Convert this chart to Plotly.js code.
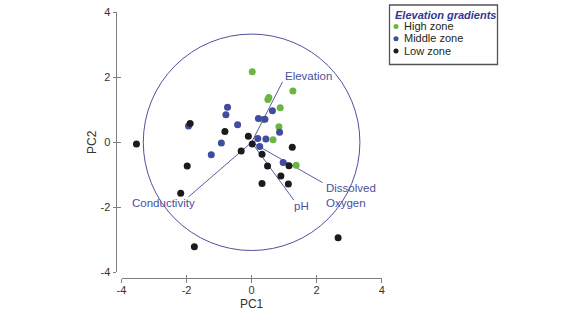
<!DOCTYPE html>
<html>
<head>
<meta charset="utf-8">
<script src="https://cdn.plot.ly/plotly-3.0.1.min.js"></script>
<style>
html,body{margin:0;padding:0;background:#fff;}
#chart{width:584px;height:311px;}
</style>
</head>
<body>
<div id="chart"></div>
<script>
// ---------- data ----------
const groupNames = ['High zone', 'Middle zone', 'Low zone'];
const legendTitle = 'Elevation gradients';

const highX = [0.02, 1.27, 0.50, 0.53, 0.88, 0.35, 0.84, 0.66, 1.37];
const highY = [2.17, 1.58, 1.32, 1.38, 1.06, 0.70, 0.48, 0.08, -0.71];

const midX = [-0.74, -0.79, -1.94, -0.43, 0.64, 0.21, 0.41, 0.86, 0.19, 0.44, -0.93, 0.25, -1.24, 0.97];
const midY = [1.08, 0.85, 0.50, 0.54, 0.97, 0.73, 0.71, 0.31, 0.12, 0.10, -0.02, -0.13, -0.38, -0.62];

const lowX = [-3.54, -1.89, -0.82, -0.10, 0.02, -0.32, -1.98, -2.18, -1.76, 1.25, 0.32, 0.49, 1.15, 0.90, 0.32, 1.13, 2.66];
const lowY = [-0.05, 0.58, 0.33, 0.19, -0.05, -0.27, -0.73, -1.57, -3.21, -0.15, -0.37, -0.73, -0.72, -1.04, -1.27, -1.28, -2.94];

const loadingNames = ['Elevation', 'Dissolved<br>Oxygen', 'pH', 'Conductivity'];
const loadingX = [0.95, 2.18, 1.30, -1.94];
const loadingY = [1.86, -1.24, -1.78, -1.68];

const circleRadius = 3.33;

const tickVals = [-4, -2, 0, 2, 4];
const tickText = ['-4', '-2', '0', '2', '4'];

// ---------- styles ----------
const W = 584, H = 311;
const px = v => v / W;
const py = v => 1 - v / H;
const groupColors = ['#6db543', '#3f4c9f', '#1b1b1b'];
const vecColor = '#5b5d9e';
const labelColor = '#4a4f9c';
const axisColor = '#808080';
const FONT = '"Liberation Sans", Arial, sans-serif';
const labelStyle = [
  {xanchor: 'left', yanchor: 'bottom', xshift: 0, yshift: -2},
  {xanchor: 'left', yanchor: 'top', xshift: 1, yshift: 3},
  {xanchor: 'left', yanchor: 'top', xshift: -2, yshift: 2},
  {xanchor: 'center', yanchor: 'top', xshift: -25, yshift: 2}
];

const groupsX = [highX, midX, lowX];
const groupsY = [highY, midY, lowY];

const traces = [];
// loading vectors
loadingX.forEach((lx, i) => {
  traces.push({
    type: 'scatter', mode: 'lines',
    x: [0, lx], y: [0, loadingY[i]],
    line: {color: vecColor, width: 1},
    hoverinfo: 'skip', showlegend: false
  });
});
// points (high drawn first, low on top)
groupNames.forEach((name, i) => {
  traces.push({
    type: 'scatter', mode: 'markers', name: name,
    x: groupsX[i], y: groupsY[i],
    marker: {color: groupColors[i], size: 7, line: {width: 0}},
    showlegend: false
  });
});
// helper trace for inside ticks overlay
traces.push({type: 'scatter', mode: 'markers', x: [], y: [], xaxis: 'x2', yaxis: 'y2', showlegend: false});

const annotations = loadingNames.map((n, i) => Object.assign({
  x: loadingX[i], y: loadingY[i], xref: 'x', yref: 'y',
  text: n, showarrow: false, align: 'left',
  font: {family: FONT, size: 11.5, color: labelColor}
}, labelStyle[i]));

// custom legend
annotations.push({
  x: px(392.5), y: py(15), xref: 'paper', yref: 'paper',
  xanchor: 'left', yanchor: 'middle', showarrow: false,
  text: '<b><i>' + legendTitle + '</i></b>',
  font: {family: FONT, size: 11, color: '#2f3a8f'}
});
const itemY = [26, 38.3, 50.6];
const shapes = [];
groupNames.forEach((name, i) => {
  annotations.push({
    x: px(401.5), y: py(itemY[i]), xref: 'paper', yref: 'paper',
    xanchor: 'left', yanchor: 'middle', showarrow: false,
    text: name, font: {family: FONT, size: 11, color: '#231f20'}
  });
  shapes.push({
    type: 'circle', xref: 'paper', yref: 'paper',
    xsizemode: 'pixel', ysizemode: 'pixel',
    xanchor: px(396), yanchor: py(itemY[i] + 0.5),
    x0: -2.5, x1: 2.5, y0: -2.5, y1: 2.5,
    fillcolor: groupColors[i], line: {width: 0}
  });
});
shapes.push({
  type: 'rect', xref: 'paper', yref: 'paper',
  x0: px(389.5), x1: px(497.5), y0: py(64.5), y1: py(5),
  line: {color: '#555555', width: 1.3}, fillcolor: 'rgba(0,0,0,0)'
});
// correlation circle
shapes.push({
  type: 'circle', xref: 'x', yref: 'y', layer: 'below',
  x0: -circleRadius, x1: circleRadius, y0: -circleRadius, y1: circleRadius,
  line: {color: '#4f519c', width: 1}
});

const xDomain = [px(121.5), px(381.7)];
const yDomain = [py(272.3), py(12.3)];
const common = {
  range: [-4, 4], showgrid: false, zeroline: false,
  tickvals: tickVals, ticktext: tickText
};

const layout = {
  width: W, height: H,
  margin: {l: 0, r: 0, t: 0, b: 0},
  paper_bgcolor: '#ffffff', plot_bgcolor: 'rgba(0,0,0,0)',
  showlegend: false,
  font: {family: FONT, size: 11, color: '#333333'},
  xaxis: Object.assign({}, common, {
    domain: xDomain, anchor: 'free', position: py(278),
    showline: true, linecolor: axisColor, linewidth: 1.3,
    ticks: 'outside', ticklen: 3.5, tickwidth: 1.3, tickcolor: axisColor,
    ticklabelstandoff: -2,
    tickfont: {family: FONT, size: 11, color: '#333333'},
    title: {text: 'PC1', font: {family: FONT, size: 12, color: '#333333'}, standoff: 6}
  }),
  yaxis: Object.assign({}, common, {
    domain: yDomain, anchor: 'free', position: px(116),
    showline: true, linecolor: axisColor, linewidth: 1.3,
    ticks: 'outside', ticklen: 3.5, tickwidth: 1.3, tickcolor: axisColor,
    tickfont: {family: FONT, size: 11, color: '#333333'},
    title: {text: 'PC2', font: {family: FONT, size: 12, color: '#333333'}, standoff: 0}
  }),
  xaxis2: Object.assign({}, common, {
    overlaying: 'x', anchor: 'free', position: py(278),
    showline: false, showticklabels: false,
    ticks: 'inside', ticklen: 3.5, tickwidth: 1.3, tickcolor: axisColor
  }),
  yaxis2: Object.assign({}, common, {
    overlaying: 'y', anchor: 'free', position: px(116),
    showline: false, showticklabels: false,
    ticks: 'inside', ticklen: 3.5, tickwidth: 1.3, tickcolor: axisColor
  }),
  shapes: shapes,
  annotations: annotations
};

Plotly.newPlot('chart', traces, layout, {displayModeBar: false, staticPlot: true});
</script>
</body>
</html>
